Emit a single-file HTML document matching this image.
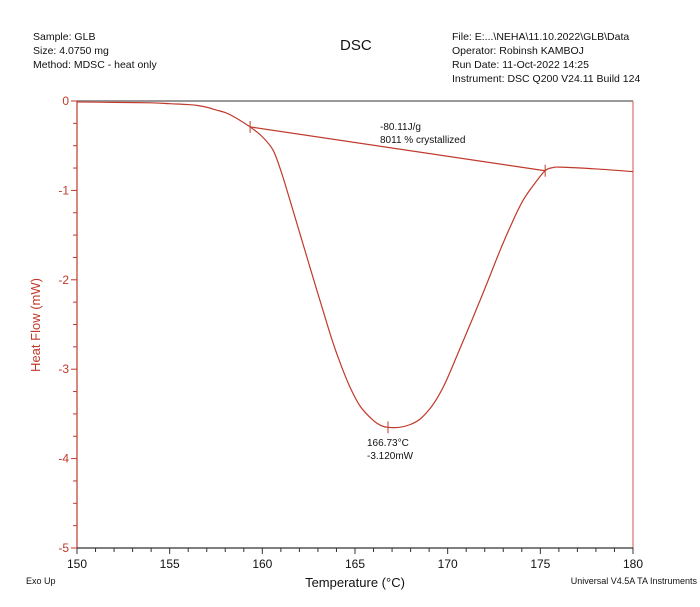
<!DOCTYPE html>
<html><head><meta charset="utf-8"><style>
body{margin:0;background:#fff;}
svg{display:block;font-family:"Liberation Sans",sans-serif;}
</style></head><body>
<svg width="700" height="607" viewBox="0 0 700 607">
<g font-size="10.5" fill="#111">
<text x="33" y="40">Sample: GLB</text>
<text x="33" y="54">Size:  4.0750 mg</text>
<text x="33" y="68">Method: MDSC - heat only</text>
<text x="340" y="50" font-size="15">DSC</text>
<text x="452" y="40">File: E:...\NEHA\11.10.2022\GLB\Data</text>
<text x="452" y="54">Operator: Robinsh KAMBOJ</text>
<text x="452" y="68">Run Date: 11-Oct-2022 14:25</text>
<text x="452" y="82">Instrument: DSC Q200 V24.11 Build 124</text>
</g>
<line x1="77" y1="101" x2="633" y2="101" stroke="#999" stroke-width="2"/>
<line x1="633" y1="101" x2="633" y2="548" stroke="#d9534f" stroke-width="1"/>
<line x1="77" y1="101" x2="77" y2="548" stroke="#c0392b" stroke-width="1.2"/>
<line x1="77" y1="548" x2="633" y2="548" stroke="#333" stroke-width="1.2"/>
<g id="ticks"></g>
<g id="marks"></g>
<text x="40" y="325" transform="rotate(-90 40 325)" text-anchor="middle" fill="#c0392b" font-size="13">Heat Flow (mW)</text>
<text x="355" y="587" text-anchor="middle" font-size="13" fill="#111">Temperature (°C)</text>
<text x="26" y="584" font-size="9" fill="#111">Exo Up</text>
<text x="697" y="584" font-size="9" fill="#111" text-anchor="end">Universal V4.5A TA Instruments</text>
<text x="380" y="130" font-size="10" fill="#111">-80.11J/g</text>
<text x="380" y="143" font-size="10" fill="#111">8011 % crystallized</text>
<text x="367" y="446" font-size="10" fill="#111">166.73°C</text>
<text x="367" y="459" font-size="10" fill="#111">-3.120mW</text>
</svg>
<script>
const temps=[150,152,154,155,156,156.5,157,157.5,158,158.5,159.34,160,160.58,161,161.49,162.57,163.65,164.2,164.73,165.3,165.97,166.4,166.78,167.4,167.97,168.5,169.05,169.5,169.9,170.5,171.37,172.1,172.83,173.5,174.07,174.6,175.26,175.7,176.07,178,180];
const flows=[-0.01,-0.015,-0.02,-0.03,-0.04,-0.05,-0.07,-0.1,-0.13,-0.18,-0.29,-0.4,-0.55,-0.78,-1.11,-1.86,-2.60,-2.93,-3.2,-3.42,-3.57,-3.63,-3.65,-3.65,-3.62,-3.56,-3.44,-3.3,-3.14,-2.85,-2.42,-2.05,-1.67,-1.35,-1.11,-0.95,-0.78,-0.745,-0.74,-0.76,-0.79];
const baselineT=[159.34,175.26];
const baselineV=[-0.29,-0.78];
const peakT=[166.78];const peakV=[-3.65];
const xTicks=[150,155,160,165,170,175,180];
const yTicks=[0,-1,-2,-3,-4,-5];
const NS="http://www.w3.org/2000/svg";
const X=t=>77+(t-150)/30*556;
const Y=v=>101+(-v)/5*447;
const tk=document.getElementById('ticks'),mk=document.getElementById('marks');
function el(tag,a,p){const e=document.createElementNS(NS,tag);for(const k in a)e.setAttribute(k,a[k]);p.appendChild(e);return e;}
for(let t=150;t<=180;t++){const l=el('line',{x1:X(t),x2:X(t),y1:548,y2:t%5===0?554:552,stroke:'#333'},tk);

}
xTicks.forEach(t=>{const e=el('text',{x:X(t),y:568,'text-anchor':'middle','font-size':12,fill:'#111'},tk);e.textContent=t;

});
for(let v=0;v>=-5;v-=0.25){const l=el('line',{x1:Number.isInteger(v)?71:73,x2:77,y1:Y(v),y2:Y(v),stroke:'#c0392b'},tk);

}
yTicks.forEach(v=>{const e=el('text',{x:69,y:Y(v)+4,'text-anchor':'end','font-size':12,fill:'#c0392b'},tk);e.textContent=v;

});
const P=temps.map((t,i)=>[X(t),Y(flows[i])]);
let d='M'+P[0][0]+','+P[0][1];
for(let i=0;i<P.length-1;i++){const p0=P[i-1]||P[i],p1=P[i],p2=P[i+1],p3=P[i+2]||p2;
d+=` C${p1[0]+(p2[0]-p0[0])/6},${p1[1]+(p2[1]-p0[1])/6} ${p2[0]-(p3[0]-p1[0])/6},${p2[1]-(p3[1]-p1[1])/6} ${p2[0]},${p2[1]}`;}
const c=el('path',{d:d,fill:'none',stroke:'#c0392b','stroke-width':1.2},mk);


const b=el('line',{x1:X(baselineT[0]),y1:Y(baselineV[0]),x2:X(baselineT[1]),y2:Y(baselineV[1]),stroke:'#c0392b','stroke-width':1.2},mk);


const crosses=[[baselineT[0],baselineV[0]],[baselineT[1],baselineV[1]],[peakT[0],peakV[0]]];
crosses.forEach(([t,v])=>{const l=el('line',{x1:X(t),x2:X(t),y1:Y(v)-6,y2:Y(v)+6,stroke:'#c0392b'},mk);

});
</script>
</body></html>
